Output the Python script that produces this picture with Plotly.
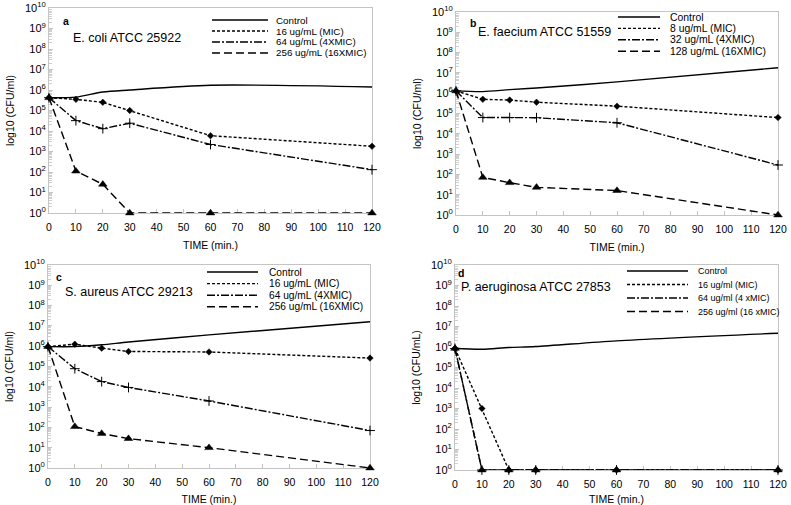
import plotly.graph_objects as go

# ---------------- data ----------------
times = [0, 10, 20, 30, 60, 120]

a_control = [4.2e5, 4.5e5, 8.0e5, 1.0e6, 1.7e6, 1.4e6]
a_mic = [4.2e5, 3.5e5, 2.5e5, 1.0e5, 5.9e3, 1.8e3]
a_4x = [4.2e5, 3.2e4, 1.3e4, 2.4e4, 2.2e3, 1.3e2]
a_16x = [4.2e5, 1.1e2, 2.5e1, 1, 1, 1]

b_control = [1.3e6, 1.2e6, 1.5e6, 1.8e6, 3.6e6, 1.8e7]
b_mic = [1.3e6, 5.0e5, 4.6e5, 3.6e5, 2.3e5, 6.3e4]
b_4x = [1.3e6, 6.3e4, 6.3e4, 6.2e4, 3.5e4, 2.9e2]
b_16x = [1.3e6, 7.1e1, 3.9e1, 2.3e1, 1.6e1, 1]

c_control = [9.5e5, 9.5e5, 1.17e6, 1.6e6, 3.6e6, 1.6e7]
c_mic = [9.5e5, 1.26e6, 8.0e5, 5.5e5, 5.2e5, 2.6e5]
c_4x = [9.5e5, 7.8e4, 1.8e4, 9.3e3, 2.0e3, 7.0e1]
c_16x = [9.5e5, 1.1e2, 5.0e1, 2.8e1, 1.0e1, 1]

d_control = [8.5e5, 7.8e5, 9.5e5, 1.05e6, 2.0e6, 4.7e6]
d_mic = [8.5e5, 1.0e3, 1, 1, 1, 1]
d_4x = [8.5e5, 1, 1, 1, 1, 1]
d_16x = [8.5e5, 1, 1, 1, 1, 1]

a_labels = ["Control", "16 ug/mL (MIC)", "64 ug/mL (4XMIC)", "256 ug/mL (16XMIC)"]
b_labels = ["Control", "8 ug/mL (MIC)", "32 ug/mL (4XMIC)", "128 ug/mL (16XMIC)"]
c_labels = ["Control", "16 ug/mL (MIC)", "64 ug/mL (4XMIC)", "256 ug/mL (16XMIC)"]
d_labels = ["Control", "16 ug/ml (MIC)", "64 ug/ml (4 xMIC)", "256 ug/ml (16 xMIC)"]

panel_letters = ["a", "b", "c", "d"]
organisms = ["E. coli ATCC 25922", "E. faecium ATCC 51559",
             "S. aureus ATCC 29213", "P. aeruginosa ATCC 27853"]
y_titles = ["log10 (CFU/ml)", "log10 (CFU/ml)", "log10 (CFU/ml)", "log10 (CFU/mL)"]
x_title = "TIME (min.)"

x_ticks = [0, 10, 20, 30, 40, 50, 60, 70, 80, 90, 100, 110, 120]
y_tickvals = [1, 1e1, 1e2, 1e3, 1e4, 1e5, 1e6, 1e7, 1e8, 1e9, 1e10]
y_ticktext = ["10<sup>0</sup>", "10<sup>1</sup>", "10<sup>2</sup>", "10<sup>3</sup>",
              "10<sup>4</sup>", "10<sup>5</sup>", "10<sup>6</sup>", "10<sup>7</sup>",
              "10<sup>8</sup>", "10<sup>9</sup>", "10<sup>10</sup>"]

# ---------------- styles ----------------
W, H = 791, 505
FONT = "Liberation Sans, Arial, sans-serif"
styles = [
    dict(dash="solid", marker=None, shape="spline", size=0),
    dict(dash="3px,2px", marker="diamond", shape="linear", size=5),
    dict(dash="8px,2px,2px,2px", marker="cross-thin", shape="linear", size=7),
    dict(dash="8px,4px", marker="triangle-up", shape="linear", size=7.5),
]

def px_x(x):
    return x / W

def px_y(y):
    return 1 - y / H

# panel pixel boxes: (x_left, x_right, y_top, y_bottom)
boxes = [(49, 372, 8, 213), (456, 778, 12, 215), (48, 370, 265, 468), (455, 778, 265, 470)]
# legend geometry per panel: line x0, line x1, text x, first row y, row step, font size
legends = [(212, 268, 275, 20, 11, 9.8), (618, 660, 669, 17, 11.4, 10.4),
           (207, 258, 268, 272, 11.6, 10.2), (627, 688, 697, 271, 13.5, 9)]
# organism label pos, letter pos
texts = [((72, 38), (66, 21)), ((477, 32), (473, 23)),
         ((64, 292), (59, 277)), ((460, 287), (461, 273))]

series = [
    (a_control, a_mic, a_4x, a_16x),
    (b_control, b_mic, b_4x, b_16x),
    (c_control, c_mic, c_4x, c_16x),
    (d_control, d_mic, d_4x, d_16x),
]
all_labels = [a_labels, b_labels, c_labels, d_labels]

fig = go.Figure()
shapes = []
annotations = []

for p in range(4):
    xa = "x" if p == 0 else f"x{p+1}"
    ya = "y" if p == 0 else f"y{p+1}"
    for s_i, ys in enumerate(series[p]):
        st = styles[s_i]
        fig.add_trace(go.Scatter(
            x=times, y=ys, xaxis=xa, yaxis=ya, mode="lines",
            line=dict(color="black", width=1.4, dash=st["dash"], shape=st["shape"],
                      smoothing=0.8 if st["shape"] == "spline" else None),
            showlegend=False, hoverinfo="skip", cliponaxis=False))
    for s_i, ys in enumerate(series[p]):
        st = styles[s_i]
        if st["marker"] is None:
            continue
        fig.add_trace(go.Scatter(
            x=times, y=ys, xaxis=xa, yaxis=ya, mode="markers",
            marker=dict(symbol=st["marker"], color="black", size=st["size"],
                        line=dict(color="black", width=1.0 if st["marker"] == "cross-thin" else 0.5)),
            showlegend=False, hoverinfo="skip", cliponaxis=False))

    x0, x1, y0, y1 = boxes[p]
    axis_common = dict(showline=True, mirror=True, linecolor="#c4c4c4", linewidth=1,
                       ticks="inside", tickcolor="#c4c4c4", showgrid=False, zeroline=False,
                       automargin=False, layer="below traces")
    fig.layout[("xaxis" if p == 0 else f"xaxis{p+1}")] = dict(
        domain=[px_x(x0), px_x(x1)], anchor=ya, range=[0, 120],
        tickmode="array", tickvals=x_ticks, ticklen=4, ticklabelstandoff=4,
        tickfont=dict(family=FONT, size=10.5, color="black"),
        title=dict(text=x_title, font=dict(family=FONT, size=10.5, color="black"), standoff=10),
        **axis_common)
    fig.layout[("yaxis" if p == 0 else f"yaxis{p+1}")] = dict(
        domain=[px_y(y1), px_y(y0)], anchor=xa, type="log", range=[0, 10],
        tickmode="array", tickvals=y_tickvals, ticktext=y_ticktext, ticklen=4,
        tickfont=dict(family=FONT, size=11, color="black"),
        minor=dict(ticks="inside", ticklen=3, tickcolor="#cfcfcf", dtick="D1", showgrid=False),
        title=dict(text=y_titles[p], font=dict(family=FONT, size=10.5, color="black"), standoff=8),
        **axis_common)

    lx0, lx1, tx, ry, dy, fs = legends[p]
    for s_i, lab in enumerate(all_labels[p]):
        yy = ry + s_i * dy
        shapes.append(dict(type="line", xref="paper", yref="paper",
                           x0=px_x(lx0), x1=px_x(lx1), y0=px_y(yy), y1=px_y(yy),
                           line=dict(color="black", width=1.4, dash=styles[s_i]["dash"])))
        annotations.append(dict(xref="paper", yref="paper", x=px_x(tx), y=px_y(yy),
                                text=lab, showarrow=False, xanchor="left", yanchor="middle",
                                borderpad=0,
                                font=dict(family=FONT, size=fs, color="black")))
    (ox, oy), (lxp, lyp) = texts[p]
    annotations.append(dict(xref="paper", yref="paper", x=px_x(ox), y=px_y(oy),
                            text=organisms[p], showarrow=False, xanchor="left", yanchor="middle",
                            borderpad=0,
                            font=dict(family=FONT, size=12.5, color="black")))
    annotations.append(dict(xref="paper", yref="paper", x=px_x(lxp), y=px_y(lyp),
                            text="<b>" + panel_letters[p] + "</b>", showarrow=False,
                            xanchor="center", yanchor="middle", borderpad=0,
                            font=dict(family=FONT, size=10.5, color="black")))

fig.update_layout(
    template="none",
    width=W, height=H, margin=dict(l=0, r=0, t=0, b=0, autoexpand=False),
    paper_bgcolor="white", plot_bgcolor="white",
    shapes=shapes, annotations=annotations, showlegend=False,
    font=dict(family=FONT, color="black"),
)

fig.write_html("out.html", config={"displayModeBar": False},
               post_script="document.body.style.margin='0px';")
